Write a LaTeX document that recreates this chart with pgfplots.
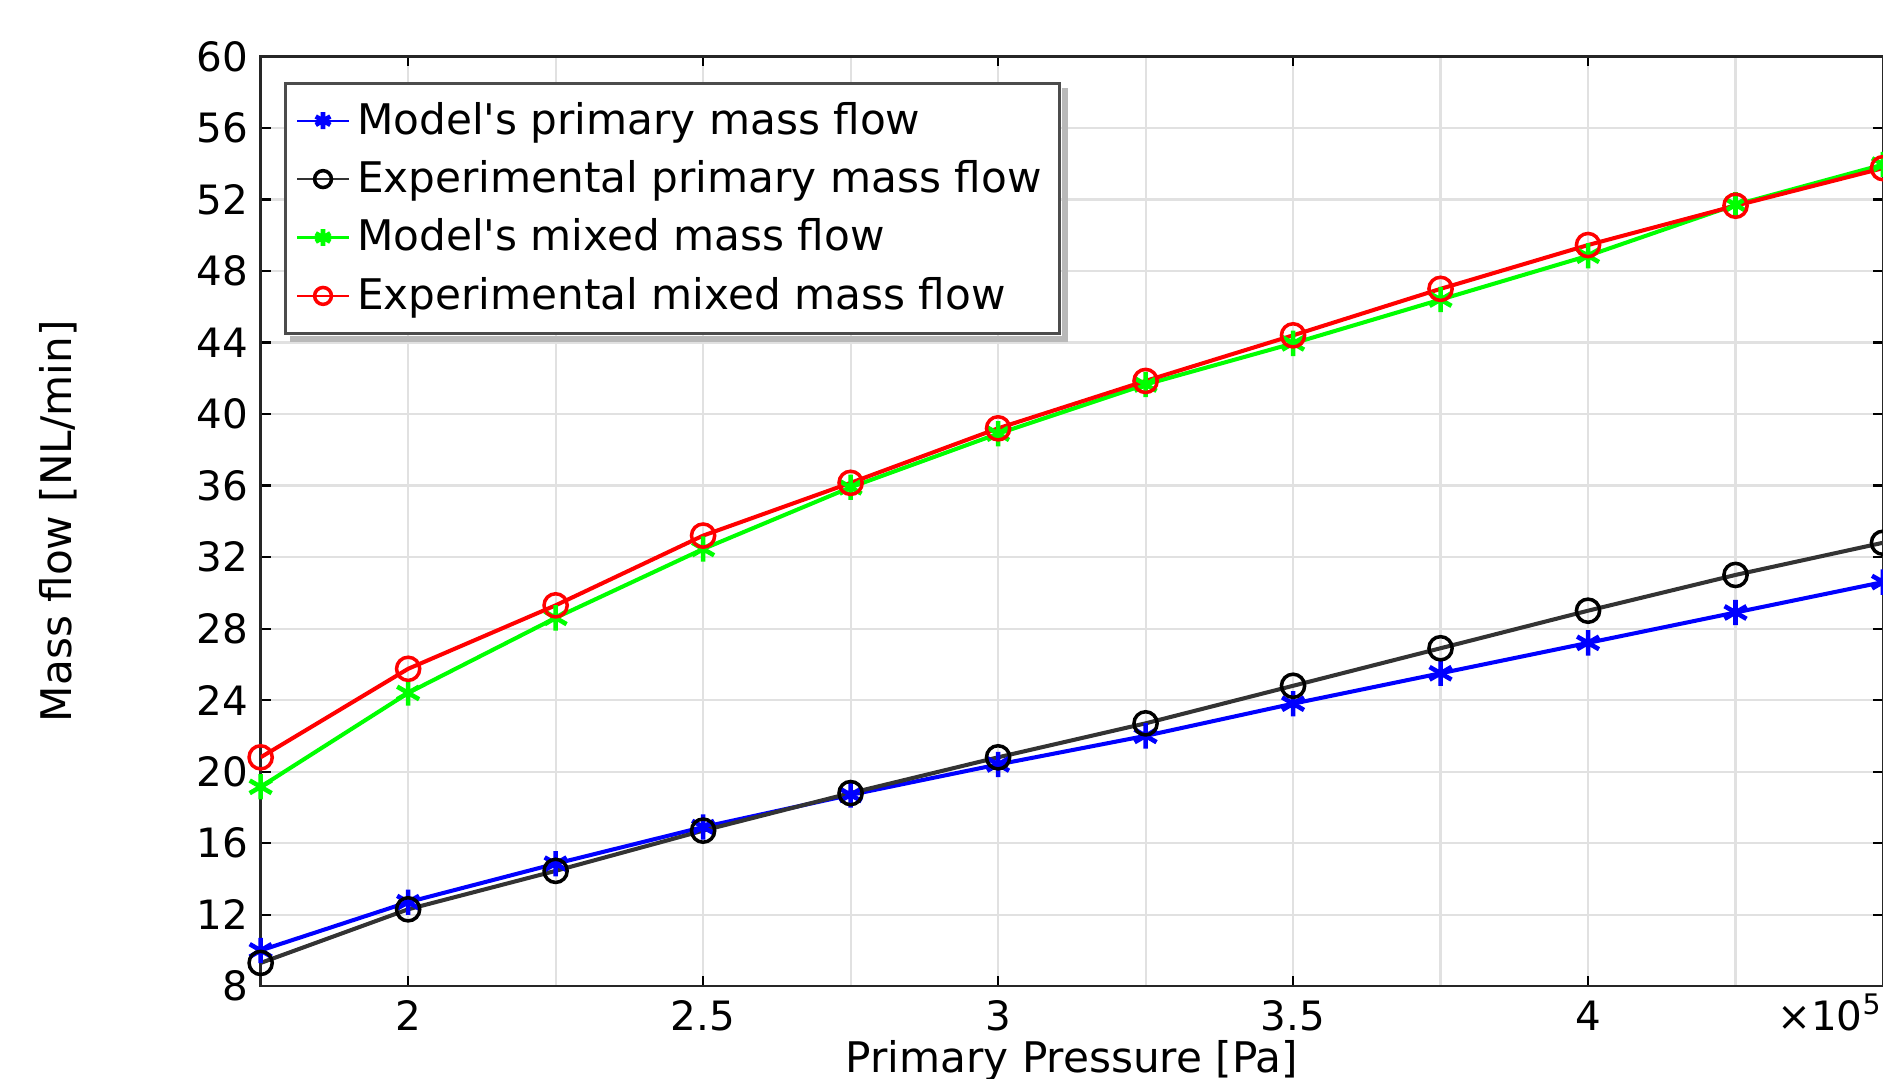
\documentclass[border=0pt]{standalone}
\usepackage{fontspec}
\setmainfont{DejaVu Sans}
\usepackage{pgfplots}
\pgfplotsset{compat=1.18}

\definecolor{gridgray}{RGB}{225,225,225}
\definecolor{shadowgray}{RGB}{185,185,185}

\begin{document}
\begin{tikzpicture}
\begin{axis}[
  name=main,
  scale only axis,
  width=16.22cm, height=9.296cm,
  xmin=175000, xmax=450000,
  ymin=8, ymax=60,
  xtick={200000,250000,300000,350000,400000},
  minor xtick={225000,275000,325000,375000,425000},
  ytick={8,12,16,20,24,28,32,36,40,44,48,52,56,60},
  scaled x ticks=base 10:-5,
  xtick scale label code/.code={},
  grid=both,
  major grid style={gridgray, line width=0.6pt},
  minor grid style={gridgray, line width=0.6pt},
  tick align=inside,
  major tick length=0.1cm,
  minor tick length=0pt,
  tick style={black, line width=0.6pt},
  axis line style={black!85, line width=0.7pt},
  /pgf/number format/assume math mode=true,
  tick label style={font=\fontsize{11.5}{13}\selectfont},
  xticklabel style={anchor=base, yshift=-0.44cm},
  label style={font=\fontsize{12}{14}\selectfont},
  xlabel={Primary Pressure [Pa]},
  xlabel style={at={(axis description cs:0.5,0)}, anchor=base, yshift=-0.86cm},
  ylabel={Mass flow [NL/min]},
  ylabel style={at={(axis description cs:-0.1163,0.5)}, anchor=base},
  legend style={
    name=leg,
    at={(axis description cs:0.0144,0.9725)}, anchor=north west,
    draw=black!70, line width=0.8pt, fill=white,
    font=\fontsize{12}{14}\selectfont,
    inner xsep=3pt, inner ysep=3.3pt, row sep=2pt,
    cells={anchor=west},
  },
  legend image code/.code={
    \draw[#1, line width=0.6pt] (0cm,0cm) -- (0.52cm,0cm);
    \draw[#1, mark size=2.4pt] plot coordinates {(0.26cm,0cm)};
  },
]

% model, primary flow
\addplot[blue, line width=1.15pt, mark=asterisk, mark size=3.6pt,
  mark options={line width=1.3pt}] coordinates {
  (175000,10.0) (200000,12.7) (225000,14.85) (250000,16.9)
  (275000,18.7) (300000,20.4) (325000,22.0) (350000,23.8)
  (375000,25.5) (400000,27.2) (425000,28.9) (450000,30.6)
};
\addlegendentry{Model\textquotesingle s primary mass flow}

% experiment, primary flow
\addplot[black!80, line width=1.15pt, mark=o, mark size=3.3pt,
  mark options={black, line width=1pt}] coordinates {
  (175000,9.3) (200000,12.3) (225000,14.45) (250000,16.7)
  (275000,18.8) (300000,20.8) (325000,22.7) (350000,24.8)
  (375000,26.9) (400000,29.0) (425000,31.0) (450000,32.8)
};
\addlegendentry{Experimental primary mass flow}

% model, mixed flow
\addplot[green, line width=1.15pt, mark=asterisk, mark size=3.6pt,
  mark options={line width=1.3pt}] coordinates {
  (175000,19.15) (200000,24.4) (225000,28.6) (250000,32.45)
  (275000,35.9) (300000,38.9) (325000,41.65) (350000,43.95)
  (375000,46.4) (400000,48.85) (425000,51.7) (450000,53.95)
};
\addlegendentry{Model\textquotesingle s mixed mass flow}

% experiment, mixed flow
\addplot[red, line width=1.15pt, mark=o, mark size=3.3pt,
  mark options={line width=1pt}] coordinates {
  (175000,20.8) (200000,25.75) (225000,29.3) (250000,33.2)
  (275000,36.15) (300000,39.2) (325000,41.85) (350000,44.4)
  (375000,47.0) (400000,49.45) (425000,51.65) (450000,53.75)
};
\addlegendentry{Experimental mixed mass flow}

\end{axis}

% shadow along the bottom and right side of the legend box
\fill[shadowgray] ([xshift=0.06cm,yshift=-0.075cm]leg.south west)
  rectangle ([xshift=0.014cm,yshift=-0.014cm]leg.south east);
\fill[shadowgray] ([xshift=0.014cm,yshift=-0.075cm]leg.south east)
  rectangle ([xshift=0.075cm,yshift=-0.06cm]leg.north east);

\node[anchor=base east, inner sep=0pt, font=\fontsize{11.5}{13}\selectfont]
  at ([yshift=-0.44cm]main.south east) {×10\textsuperscript{5}};

\pgfresetboundingbox
\path[use as bounding box] ([xshift=-2.606cm,yshift=-0.92cm]main.south west)
  rectangle ([yshift=0.564cm]main.north east);
\end{tikzpicture}
\end{document}
